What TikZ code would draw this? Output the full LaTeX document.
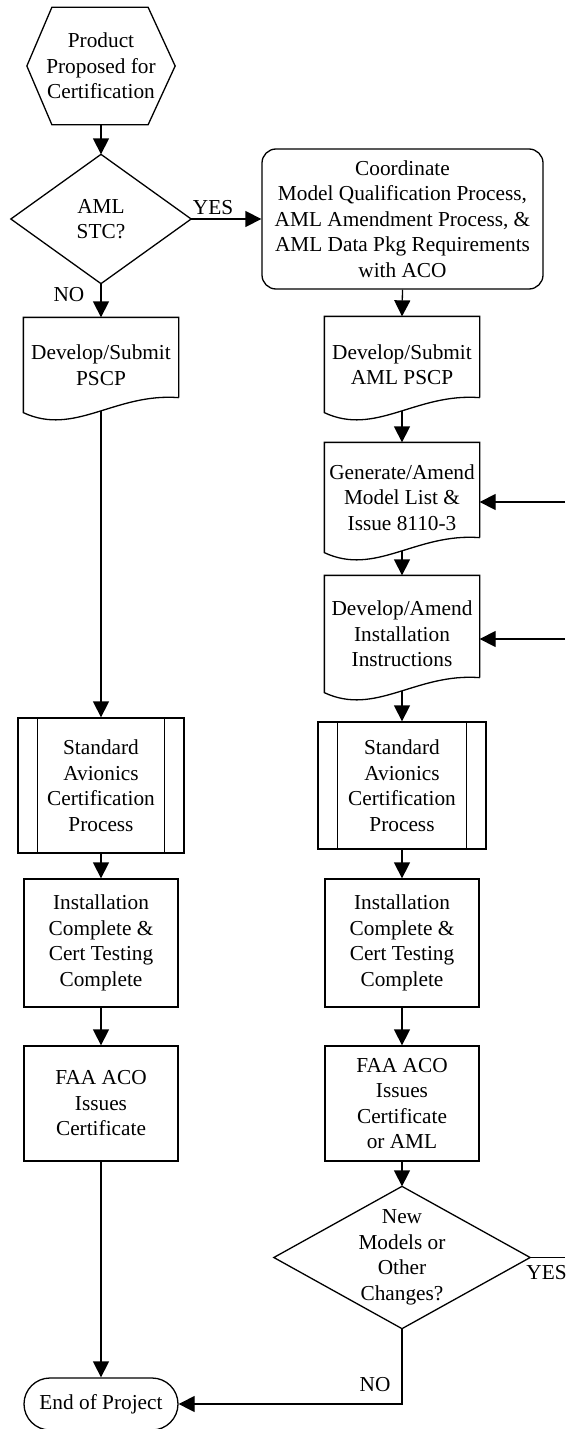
\documentclass[tikz,border=0pt]{standalone}
\usepackage{fontspec}
\setmainfont{Liberation Serif}
\usetikzlibrary{arrows.meta,calc}
\newcommand\mydocout[1]{%
  \draw ([yshift=15pt]#1.south east) -- (#1.north east) -- (#1.north west) -- (#1.south west)
    .. controls ($(#1.south west)!0.33!(#1.south east)+(0,24)$) and ($(#1.south west)!0.59!(#1.south east)+(0,-20)$) .. ([yshift=15pt]#1.south east);
  \coordinate (#1b) at ($(#1.south)+(0,-2)$);}
\newcommand\mysubout[1]{%
  \draw ([xshift=20pt]#1.north west) -- ([xshift=20pt]#1.south west);
  \draw ([xshift=-20pt]#1.north east) -- ([xshift=-20pt]#1.south east);}
\begin{document}
\begin{tikzpicture}[x=1pt,y=-1pt,line width=1.3pt,
  every node/.style={font=\fontsize{21.3pt}{25.5pt}\selectfont,align=center,inner sep=0pt},
  ghost/.style={rectangle,draw=none,minimum width=154pt},
  procbox/.style={rectangle,draw,minimum width=154pt},
  arr/.style={-{Triangle[length=16pt,width=16pt]}}]
\useasboundingbox (0,0) rectangle (565,1429);

% start hexagon
\node[ghost,minimum width=147pt,minimum height=116pt] (start) at (101,66) {Product\\Proposed for\\Certification};
\draw (start.west) -- ([xshift=25pt]start.north west) -- ([xshift=-27pt]start.north east) -- (start.east)
  -- ([xshift=-27pt]start.south east) -- ([xshift=25pt]start.south west) -- cycle;

% decision AML STC?
\node[ghost,minimum width=179pt,minimum height=128pt] (aml) at (101,219) {AML\\STC?};
\draw (aml.north) -- (aml.east) -- (aml.south) -- (aml.west) -- cycle;

% coordinate box
\node[draw,rounded corners=14pt,minimum width=281pt,minimum height=140pt] (coord) at (402.5,219)
  {Coordinate\\Model Qualification Process,\\AML Amendment Process, \&\\AML Data Pkg Requirements\\with ACO};

% documents
\node[ghost,minimum height=94pt] (dev) at (101,365) {Develop/Submit\\PSCP};
\mydocout{dev}
\node[ghost,minimum height=95pt] (aplan) at (402,364.5) {Develop/Submit\\AML PSCP};
\mydocout{aplan}
\node[ghost,minimum height=109pt] (gen) at (402,497.5) {Generate/Amend\\Model List \&\\Issue 8110-3};
\mydocout{gen}
\node[ghost,minimum height=116pt] (inst) at (402,634) {Develop/Amend\\Installation\\Instructions};
\mydocout{inst}

% subprocesses
\node[procbox,minimum width=166pt,minimum height=135pt] (stdL) at (101,785.5) {Standard\\Avionics\\Certification\\Process};
\mysubout{stdL}
\node[procbox,minimum width=168pt,minimum height=127pt] (stdR) at (402,785.5) {Standard\\Avionics\\Certification\\Process};
\mysubout{stdR}

% processes
\node[procbox,minimum height=128pt] (instL) at (101,943) {Installation\\Complete \&\\Cert Testing\\Complete};
\node[procbox,minimum height=128pt] (instR) at (402,943) {Installation\\Complete \&\\Cert Testing\\Complete};
\node[procbox,minimum height=115pt] (faaL) at (101,1103.5) {FAA ACO\\Issues\\Certificate};
\node[procbox,minimum height=115pt] (faaR) at (402,1103.5) {FAA ACO\\Issues\\Certificate\\or AML};

% decision changes
\node[ghost,minimum width=255pt,minimum height=141pt] (chg) at (402,1257.5) {New\\Models or\\Other\\Changes?};
\draw (chg.north) -- (chg.east) -- (chg.south) -- (chg.west) -- cycle;

% end
\node[draw,rounded corners=26pt,minimum width=154pt,minimum height=52pt] (end) at (101,1404) {End of Project};

% free ends at right edge
\coordinate (yesend) at (565,1257.5);
\coordinate (r1) at (565,502);
\coordinate (r2) at (565,639);

% labels
\node (yes1) at (213,208) {YES};
\node (no1) at (69,295) {NO};
\node (yes2) at (546.5,1273) {YES};
\node (no2) at (375,1385) {NO};

% connectors
\draw[arr] (start.south) -- (aml.north);
\draw[arr] (aml.east) -- (coord.west);
\draw[arr] (aml.south) -- (dev.north);
\draw[arr] (coord.south) -- (aplan.north);
\draw[arr] (devb) -- (stdL.north);
\draw[arr] (aplanb) -- (gen.north);
\draw[arr] (genb) -- (inst.north);
\draw[arr] (instb) -- (stdR.north);
\draw[arr] (stdL.south) -- (instL.north);
\draw[arr] (instL.south) -- (faaL.north);
\draw[arr] (faaL.south) -- (end.north);
\draw[arr] (stdR.south) -- (instR.north);
\draw[arr] (instR.south) -- (faaR.north);
\draw[arr] (faaR.south) -- (chg.north);
\draw (chg.east) -- (yesend);
\draw[arr] (chg.south) |- (end.east);
\draw[arr] (r1) -- (r1 -| gen.east);
\draw[arr] (r2) -- (r2 -| inst.east);
\end{tikzpicture}
\end{document}
